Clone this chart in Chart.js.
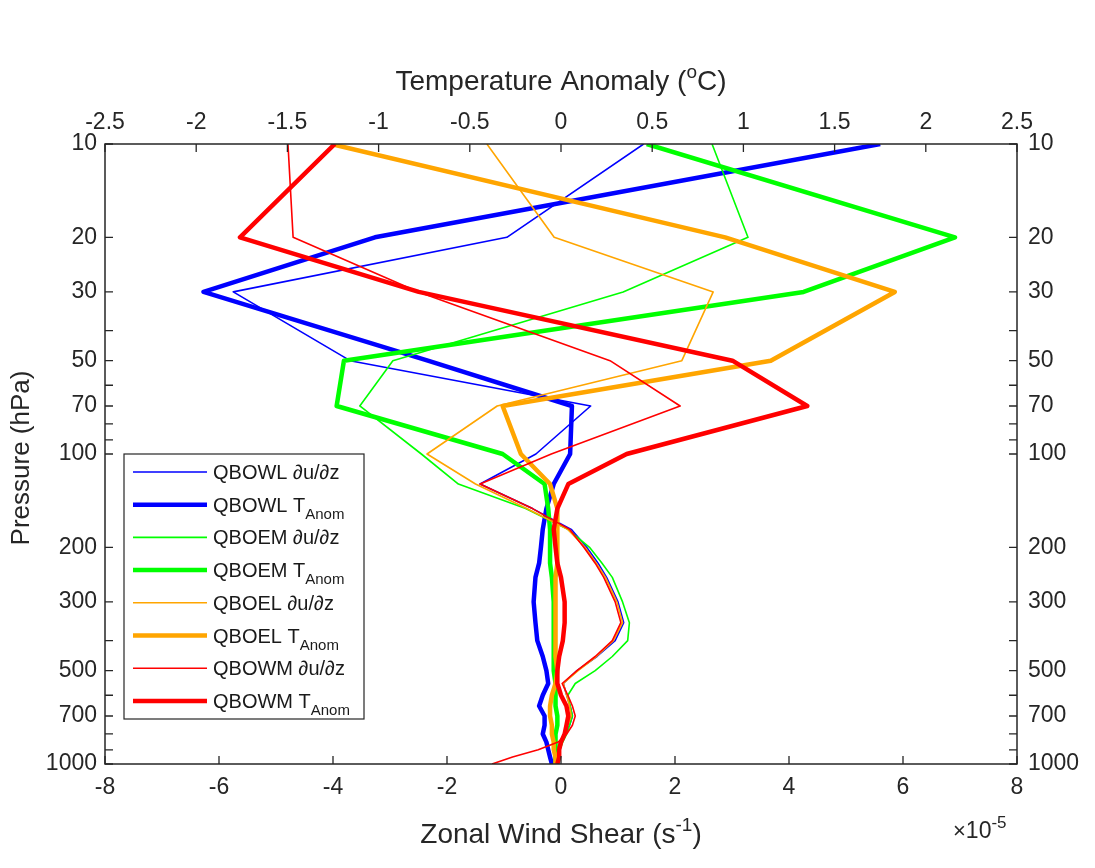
<!DOCTYPE html>
<html>
<head>
<meta charset="utf-8">
<script src="https://cdn.jsdelivr.net/npm/chart.js@4.4.1/dist/chart.umd.min.js"></script>
<style>
html,body{margin:0;padding:0;background:#ffffff;}
#wrap{position:relative;width:1095px;height:868px;}
canvas{display:block;}
</style>
</head>
<body>
<div id="wrap"><canvas id="c" width="1095" height="868"></canvas></div>
<script>
// ---------------- data ----------------
const pressureLevels = [10, 20, 30, 50, 70, 100, 125, 150, 175, 200, 225, 250, 300, 350, 400, 450, 500, 550, 600, 650, 700, 750, 800, 850, 900, 950, 1000];

const pressureTicks = [10, 20, 30, 50, 70, 100, 200, 300, 500, 700, 1000];
const pressureMinorTicks = [40, 60, 80, 90, 400, 600, 800, 900];
const shearTicks = [-8, -6, -4, -2, 0, 2, 4, 6, 8];
const tempTicks = [-2.5, -2, -1.5, -1, -0.5, 0, 0.5, 1, 1.5, 2, 2.5];

const seriesNames = ['QBOWL', 'QBOEM', 'QBOEL', 'QBOWM'];

// zonal wind shear, units of 1e-5 s^-1 (bottom axis)
const qbowlShear = [1.45, -0.95, -5.75, -3.7, 0.52, -0.44, -1.42, -0.5, 0.18, 0.45, 0.65, 0.8, 1.0, 1.1, 0.95, 0.63, 0.28, 0.04, 0.1, 0.16, 0.2, 0.15, 0.08, -0.02, -0.07, -0.1, -0.16];
const qboemShear = [2.65, 3.28, 1.09, -2.95, -3.53, -2.45, -1.8, -0.62, 0.12, 0.5, 0.72, 0.9, 1.08, 1.2, 1.17, 0.9, 0.6, 0.25, 0.12, 0.16, 0.2, 0.15, 0.1, 0.03, -0.02, -0.05, -0.06];
const qboelShear = [-1.3, -0.12, 2.67, 2.12, -1.12, -2.35, -1.5, -0.6, 0.12, 0.42, 0.62, 0.78, 0.98, 1.08, 0.92, 0.62, 0.3, 0.04, 0.1, 0.15, 0.18, 0.12, 0.05, -0.02, -0.05, -0.08, -0.1];
const qbowmShear = [-4.79, -4.7, -2.5, 0.86, 2.09, -0.17, -1.42, -0.5, 0.15, 0.4, 0.6, 0.75, 0.95, 1.05, 0.9, 0.6, 0.28, 0.02, 0.12, 0.2, 0.25, 0.2, 0.1, -0.05, -0.4, -0.85, -1.21];

// temperature anomaly, degC (top axis)
const qbowlTemp = [1.75, -1.02, -1.96, -0.73, 0.06, 0.05, -0.04, -0.08, -0.1, -0.11, -0.12, -0.14, -0.15, -0.14, -0.13, -0.1, -0.08, -0.07, -0.1, -0.12, -0.09, -0.09, -0.1, -0.08, -0.07, -0.06, -0.05];
const qboemTemp = [0.47, 2.16, 1.33, -1.19, -1.23, -0.32, -0.09, -0.07, -0.06, -0.06, -0.06, -0.05, -0.04, -0.04, -0.04, -0.04, -0.04, -0.03, -0.03, -0.03, -0.02, -0.02, -0.03, -0.03, -0.03, -0.03, -0.03];
const qboelTemp = [-1.26, 0.9, 1.83, 1.15, -0.32, -0.22, -0.06, -0.02, -0.02, -0.02, -0.02, -0.03, -0.03, -0.03, -0.03, -0.03, -0.02, -0.03, -0.05, -0.06, -0.06, -0.05, -0.05, -0.04, -0.04, -0.03, -0.03];
const qbowmTemp = [-1.24, -1.76, -0.78, 0.94, 1.35, 0.36, 0.04, -0.02, -0.04, -0.03, -0.02, 0.0, 0.02, 0.02, 0.01, -0.01, -0.02, -0.02, 0.0, 0.03, 0.04, 0.03, 0.02, 0.0, -0.01, -0.01, -0.02];

const seriesColors = ['#0000ff', '#00ff00', '#ffa500', '#ff0000'];
const shearSeries = [qbowlShear, qboemShear, qboelShear, qbowmShear];
const tempSeries = [qbowlTemp, qboemTemp, qboelTemp, qbowmTemp];

// ---------------- chart ----------------
const FONT = "'Liberation Sans', Arial, Helvetica, sans-serif";
const AXIS_COLOR = '#262626';
const THIN = 1.6, THICK = 4.5;

const datasets = [];
seriesNames.forEach((name, k) => {
  datasets.push({
    label: name + ' \u2202u/\u2202z',
    legendMain: name + ' \u2202u/\u2202z', legendSub: '',
    data: pressureLevels.map((p, i) => ({x: shearSeries[k][i], y: p})),
    borderColor: seriesColors[k], backgroundColor: seriesColors[k],
    borderWidth: THIN, xAxisID: 'x', yAxisID: 'y'
  });
  datasets.push({
    label: name + ' T Anom',
    legendMain: name + ' T', legendSub: 'Anom',
    data: pressureLevels.map((p, i) => ({x: tempSeries[k][i], y: p})),
    borderColor: seriesColors[k], backgroundColor: seriesColors[k],
    borderWidth: THICK, xAxisID: 'x2', yAxisID: 'y'
  });
});
datasets.forEach((d, i) => {
  d.order = 100 - i;
  d.pointRadius = 0;
  d.pointHoverRadius = 0;
  d.tension = 0;
  d.fill = false;
  d.showLine = true;
  d.borderJoinStyle = 'round';
});

const tickFont = {family: FONT, size: 23};

function fixedTicks(list) {
  return function (axis) { axis.ticks = list.map(v => ({value: v})); };
}

// draws text made of pieces with optional super/subscript
function drawRich(ctx, parts, x, y, align) {
  let total = 0;
  parts.forEach(p => { ctx.font = p.size + 'px ' + FONT; p.w = ctx.measureText(p.t).width; total += p.w; });
  let cx = align === 'center' ? x - total / 2 : (align === 'right' ? x - total : x);
  ctx.textAlign = 'left';
  ctx.textBaseline = 'alphabetic';
  parts.forEach(p => {
    ctx.font = p.size + 'px ' + FONT;
    ctx.fillText(p.t, cx, y + (p.dy || 0));
    cx += p.w;
  });
}

const framePlugin = {
  id: 'frame',
  afterDraw(chart) {
    const {ctx, chartArea: a, scales} = chart;
    ctx.save();
    ctx.strokeStyle = AXIS_COLOR;
    ctx.lineWidth = 1.5;
    ctx.strokeRect(a.left, a.top, a.right - a.left, a.bottom - a.top);
    const TL = 8;
    ctx.lineWidth = 1.3;
    ctx.beginPath();
    shearTicks.forEach(v => { const px = scales.x.getPixelForValue(v); ctx.moveTo(px, a.bottom); ctx.lineTo(px, a.bottom - TL); });
    tempTicks.forEach(v => { const px = scales.x2.getPixelForValue(v); ctx.moveTo(px, a.top); ctx.lineTo(px, a.top + TL); });
    pressureTicks.concat(pressureMinorTicks).forEach(v => {
      const py = scales.y.getPixelForValue(v);
      ctx.moveTo(a.left, py); ctx.lineTo(a.left + TL, py);
      const py2 = scales.y2.getPixelForValue(v);
      ctx.moveTo(a.right, py2); ctx.lineTo(a.right - TL, py2);
    });
    ctx.stroke();

    // axis titles
    ctx.fillStyle = AXIS_COLOR;
    const cxMid = (a.left + a.right) / 2;
    drawRich(ctx, [
      {t: 'Temperature Anomaly (', size: 28},
      {t: 'o', size: 19, dy: -12},
      {t: 'C)', size: 28}
    ], cxMid, 90, 'center');
    drawRich(ctx, [
      {t: 'Zonal Wind Shear (s', size: 28},
      {t: '-1', size: 19, dy: -12},
      {t: ')', size: 28}
    ], cxMid, 843, 'center');
    drawRich(ctx, [
      {t: '\u00d7', size: 22},
      {t: '10', size: 23},
      {t: '-5', size: 17, dy: -10}
    ], 953, 838, 'left');
    ctx.save();
    ctx.translate(29, (a.top + a.bottom) / 2 + 4);
    ctx.rotate(-Math.PI / 2);
    drawRich(ctx, [{t: 'Pressure (hPa)', size: 26}], 0, 0, 'center');
    ctx.restore();

    // legend
    const L = {x: 124, y: 454, w: 240, h: 265};
    ctx.fillStyle = '#ffffff';
    ctx.fillRect(L.x, L.y, L.w, L.h);
    ctx.strokeStyle = AXIS_COLOR;
    ctx.lineWidth = 1.2;
    ctx.strokeRect(L.x, L.y, L.w, L.h);
    const rowH = 32.7;
    chart.data.datasets.forEach((d, i) => {
      const yc = 472 + i * rowH;
      ctx.strokeStyle = d.borderColor;
      ctx.lineWidth = d.borderWidth;
      ctx.beginPath();
      ctx.moveTo(133, yc); ctx.lineTo(207, yc);
      ctx.stroke();
      ctx.fillStyle = '#1a1a1a';
      const parts = [{t: d.legendMain, size: 20}];
      if (d.legendSub) parts.push({t: d.legendSub, size: 15, dy: 7});
      drawRich(ctx, parts, 213, yc + 7, 'left');
    });
    ctx.restore();
  }
};

const commonTicks = {font: tickFont, color: AXIS_COLOR, autoSkip: false, maxRotation: 0, minRotation: 0, callback: v => String(v)};

new Chart(document.getElementById('c'), {
  type: 'line',
  data: {datasets},
  options: {
    responsive: false,
    devicePixelRatio: 1,
    animation: false,
    events: [],
    layout: {padding: 0},
    plugins: {legend: {display: false}, title: {display: false}, tooltip: {enabled: false}},
    scales: {
      x: {
        type: 'linear', position: 'bottom', min: -8, max: 8,
        afterBuildTicks: fixedTicks(shearTicks),
        ticks: Object.assign({}, commonTicks, {padding: 10}),
        grid: {display: false, drawTicks: false}, border: {display: false},
        afterFit: s => { s.height = 104; }
      },
      x2: {
        type: 'linear', position: 'top', min: -2.5, max: 2.5,
        afterBuildTicks: fixedTicks(tempTicks),
        ticks: Object.assign({}, commonTicks, {padding: 8}),
        grid: {display: false, drawTicks: false}, border: {display: false},
        afterFit: s => { s.height = 144; }
      },
      y: {
        type: 'logarithmic', position: 'left', reverse: true, min: 10, max: 1000,
        afterBuildTicks: fixedTicks(pressureTicks),
        ticks: Object.assign({}, commonTicks, {padding: 8}),
        grid: {display: false, drawTicks: false}, border: {display: false},
        afterFit: s => { s.width = 105; }
      },
      y2: {
        type: 'logarithmic', position: 'right', reverse: true, min: 10, max: 1000,
        afterBuildTicks: fixedTicks(pressureTicks),
        ticks: Object.assign({}, commonTicks, {padding: 11}),
        grid: {display: false, drawTicks: false}, border: {display: false},
        afterFit: s => { s.width = 78; }
      }
    }
  },
  plugins: [framePlugin]
});
</script>
</body>
</html>
